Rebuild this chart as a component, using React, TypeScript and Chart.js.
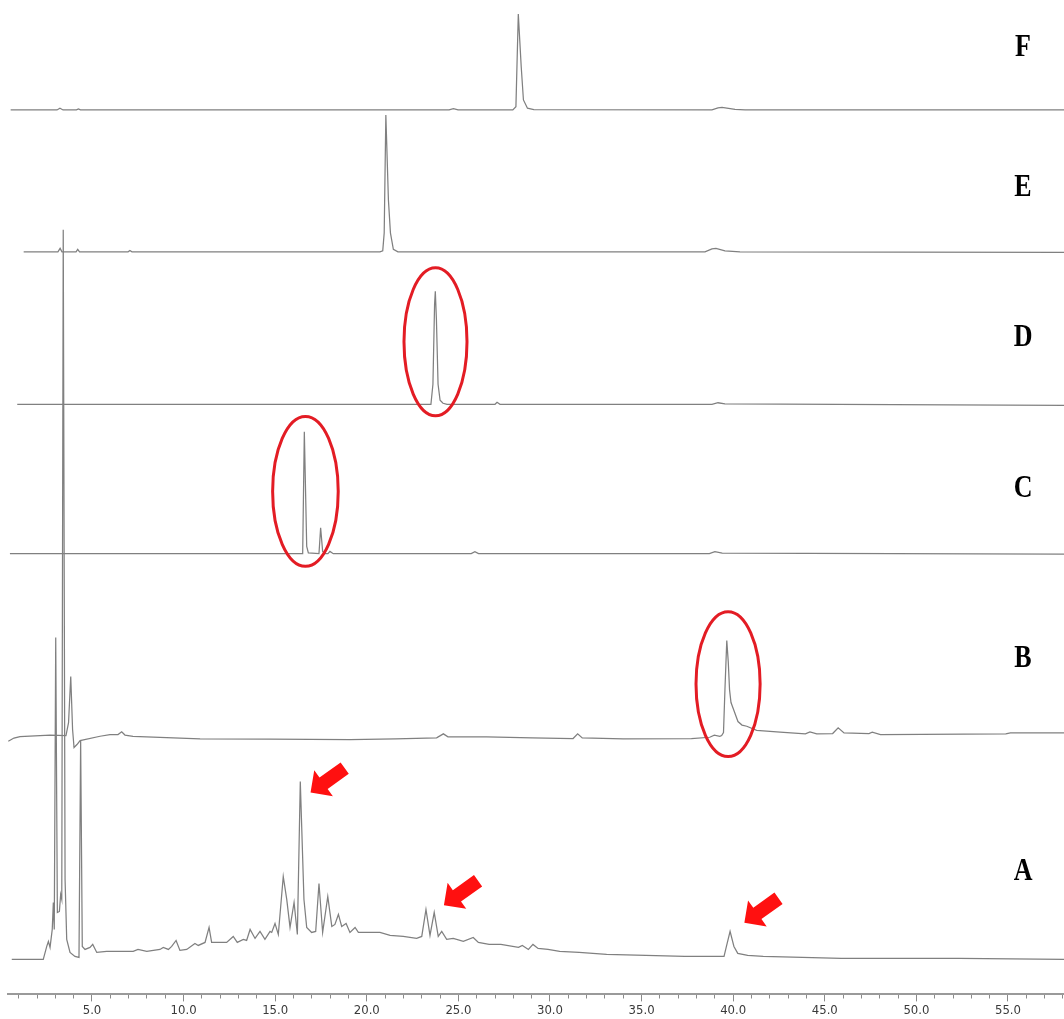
import React, { useEffect, useRef } from 'react';
import { Chart, registerables } from 'chart.js';

Chart.register(...registerables);

// Retention time (min) vs. detector signal, one trace per sample, stacked with offsets
const traceNames = ['A', 'B', 'C', 'D', 'E', 'F'];
const traceOffsets = [35, 257, 441, 590.5, 743, 885];

const traceA: [number, number][] = [
  [0.62, 0], [2.34, 0], [2.53, 13], [2.62, 18], [2.71, 12], [2.83, 30], [2.89, 57], [2.94, 30],
  [3.02, 322], [3.11, 47], [3.22, 48], [3.29, 65], [3.35, 60], [3.43, 730], [3.53, 80], [3.62, 20],
  [3.8, 7], [4.07, 3], [4.29, 2], [4.38, 219], [4.47, 13], [4.62, 10], [4.89, 12], [5.04, 15],
  [5.26, 7], [5.8, 8], [7.25, 8], [7.51, 10], [7.99, 8], [8.71, 10], [8.89, 12], [9.17, 10],
  [9.35, 13], [9.59, 19], [9.8, 9], [10.17, 10], [10.62, 16], [10.8, 14], [11.17, 17], [11.39, 32],
  [11.53, 17], [12.35, 17], [12.71, 23], [12.93, 17], [13.26, 20], [13.44, 19], [13.63, 30], [13.9, 21],
  [14.17, 28], [14.44, 20], [14.72, 28], [14.81, 27], [14.99, 36], [15.17, 25], [15.44, 83], [15.63, 60],
  [15.81, 32], [16.03, 57], [16.21, 25], [16.37, 178], [16.57, 60], [16.72, 32], [16.99, 27], [17.21, 28],
  [17.39, 76], [17.59, 27], [17.87, 63], [18.09, 33], [18.26, 35], [18.45, 45], [18.63, 33], [18.87, 36],
  [19.08, 27], [19.36, 32], [19.54, 27], [20.0, 27], [20.72, 27], [21.27, 24], [21.99, 23], [22.72, 21],
  [23.0, 23], [23.23, 50], [23.45, 24], [23.68, 47], [23.9, 23], [24.09, 28], [24.36, 20], [24.72, 21],
  [25.27, 18], [25.81, 22], [26.09, 17], [26.68, 15], [27.32, 15], [28.28, 12], [28.49, 14], [28.82, 10],
  [29.07, 15], [29.35, 11], [29.89, 10], [30.53, 8], [31.59, 7], [33.09, 5], [35.23, 4], [37.36, 3],
  [39.5, 3], [39.63, 13], [39.83, 28], [40.04, 13], [40.25, 6], [40.79, 4], [41.64, 3], [45.91, 1],
  [52.33, 1], [58.06, 0],
];

const traceB: [number, number][] = [
  [0.43, -3.7], [0.74, -0.5], [1.07, 1], [2.71, 2.5], [3.58, 2], [3.72, 15], [3.84, 61], [3.94, 8],
  [4.02, -10], [4.18, -7], [4.35, -3], [5.44, 1.3], [5.98, 3], [6.42, 3], [6.62, 5.7], [6.8, 2.5],
  [7.24, 1.3], [10.9, -1.3], [14.72, -1.5], [19.08, -2], [21.57, -1.3], [23.81, -0.3], [24.18, 3.7],
  [24.43, 0.7], [26.54, 0.7], [29.02, -0.3], [31.26, -1], [31.51, 3.7], [31.76, -0.3], [34.0, -1.3],
  [37.72, -1], [38.72, 0.3], [38.97, 2.3], [39.27, 1.3], [39.37, 2], [39.47, 5], [39.55, 48], [39.65, 97],
  [39.73, 76], [39.8, 48], [39.88, 35], [40.04, 27], [40.26, 16], [40.48, 12.5], [40.74, 11.3], [41.28, 7.3],
  [42.56, 5.5], [43.94, 3.7], [44.19, 5.7], [44.56, 3.7], [45.43, 4], [45.73, 9.7], [46.05, 4.7], [47.41, 4],
  [47.59, 5.3], [48.04, 3], [54.88, 3.7], [55.13, 4.7], [58.06, 4.7],
];

const traceC: [number, number][] = [
  [0.52, 0], [16.5, 0], [16.59, 122], [16.72, 7.3], [16.81, 0.7], [17.39, 0], [17.48, 26], [17.59, 2.3],
  [17.72, 0], [17.88, 0], [17.99, 2.3], [18.17, 0], [25.7, 0], [25.9, 2], [26.1, 0], [38.7, 0],
  [39.0, 2], [39.4, 0.5], [58.06, -0.5],
];

const traceD: [number, number][] = [
  [0.92, 0], [23.5, 0], [23.61, 20], [23.7, 100], [23.74, 113], [23.8, 85], [23.89, 20], [24.0, 4],
  [24.16, 1], [24.38, 0], [27.0, 0], [27.11, 2], [27.27, 0], [38.84, 0], [39.17, 1.5], [39.55, 0.5],
  [58.06, -1],
];

const traceE: [number, number][] = [
  [1.27, 0], [3.14, 0], [3.26, 3.5], [3.36, 0], [4.13, 0], [4.22, 2.5], [4.32, 0], [6.97, 0],
  [7.07, 1.3], [7.18, 0], [20.72, 0], [20.87, 1], [20.95, 19], [21.04, 137], [21.18, 52], [21.29, 19],
  [21.45, 2.5], [21.7, 0], [38.46, 0], [38.84, 3], [39.06, 3.5], [39.55, 1], [40.37, 0], [58.06, -0.5],
];

const traceF: [number, number][] = [
  [0.56, 0], [3.09, 0], [3.25, 1.7], [3.42, 0], [4.15, 0], [4.26, 1], [4.37, 0], [24.49, 0],
  [24.73, 1.3], [24.98, 0], [27.97, 0], [28.14, 3.3], [28.27, 96], [28.43, 43], [28.55, 10], [28.77, 1.7],
  [29.12, 0.3], [38.84, 0], [39.17, 2], [39.39, 2.5], [40.1, 0.5], [40.65, 0], [58.06, 0],
];

const traces = [traceA, traceB, traceC, traceD, traceE, traceF];

// Axis range (min)
const timeMin = 0.415;
const timeMax = 58.057;
const majorStep = 5;

// Annotations (in data units)
const letterTime = 55.82;
const letterLevel = [114.5, 327.5, 497.5, 648.5, 798.5, 938.5];

const circledTime = [16.65, 23.75, 39.72];
const circledLevel = [503.3, 653, 310.5];
const circledHalfSpan = [1.79, 1.72, 1.75];
const circledHalfRange = [75, 74, 72.5];

const arrowTime = [16.93, 24.21, 40.61];
const arrowLevel = [202, 89.3, 71.7];

const annotationPlugin = {
  id: 'chromAnnotations',
  afterDatasetsDraw(chart: any) {
    const { ctx } = chart;
    const x = chart.scales.x;
    const y = chart.scales.y;
    ctx.save();

    // red ellipses
    ctx.strokeStyle = '#e31c24';
    ctx.lineWidth = 3;
    circledTime.forEach((t, i) => {
      const cx = x.getPixelForValue(t);
      const cy = y.getPixelForValue(circledLevel[i]);
      const rx = Math.abs(x.getPixelForValue(t + circledHalfSpan[i]) - cx);
      const ry = Math.abs(y.getPixelForValue(circledLevel[i] + circledHalfRange[i]) - cy);
      ctx.beginPath();
      ctx.ellipse(cx, cy, rx, ry, 0, 0, Math.PI * 2);
      ctx.stroke();
    });

    // red arrows
    const dLen = Math.hypot(-0.81, 0.58);
    const dx = -0.81 / dLen;
    const dy = 0.58 / dLen;
    const nx = -dy;
    const ny = dx;
    const L = 42;
    const headLen = 16;
    const headHalf = 16;
    const shaftHalf = 7;
    ctx.fillStyle = '#ff1010';
    arrowTime.forEach((t, i) => {
      const tx = x.getPixelForValue(t);
      const ty = y.getPixelForValue(arrowLevel[i]);
      const bx = tx - dx * headLen;
      const by = ty - dy * headLen;
      const ex = tx - dx * L;
      const ey = ty - dy * L;
      ctx.beginPath();
      ctx.moveTo(tx, ty);
      ctx.lineTo(bx + nx * headHalf, by + ny * headHalf);
      ctx.lineTo(bx + nx * shaftHalf, by + ny * shaftHalf);
      ctx.lineTo(ex + nx * shaftHalf, ey + ny * shaftHalf);
      ctx.lineTo(ex - nx * shaftHalf, ey - ny * shaftHalf);
      ctx.lineTo(bx - nx * shaftHalf, by - ny * shaftHalf);
      ctx.lineTo(bx - nx * headHalf, by - ny * headHalf);
      ctx.closePath();
      ctx.fill();
    });

    // trace letters
    ctx.fillStyle = '#000';
    ctx.font = 'bold 26px "Liberation Serif", "DejaVu Serif", serif';
    ctx.textAlign = 'center';
    ctx.textBaseline = 'alphabetic';
    traceNames.forEach((name, i) => {
      const px = x.getPixelForValue(letterTime);
      const py = y.getPixelForValue(letterLevel[i]);
      ctx.save();
      ctx.translate(px, py);
      ctx.scale(1, 1.22);
      ctx.fillText(name, 0, 0);
      ctx.restore();
    });

    ctx.restore();
  },
};

export default function App() {
  const canvasRef = useRef<HTMLCanvasElement>(null);

  useEffect(() => {
    const canvas = canvasRef.current;
    if (!canvas) return;
    const datasets = traces.map((tr, i) => ({
      label: traceNames[i],
      data: tr.map(([t, s]) => ({ x: t, y: s + traceOffsets[i] })),
      borderColor: '#808080',
      borderWidth: 1.25,
      pointRadius: 0,
      fill: false,
      tension: 0,
    }));

    const chart = new Chart(canvas, {
      type: 'line',
      data: { datasets },
      options: {
        animation: false,
        responsive: false,
        devicePixelRatio: 1,
        events: [],
        layout: { padding: { left: 8, right: 0, top: 0, bottom: 0 } },
        plugins: {
          legend: { display: false },
          tooltip: { enabled: false },
        },
        scales: {
          x: {
            type: 'linear',
            min: timeMin,
            max: timeMax,
            border: { display: true, color: '#9a9a9a', width: 2 },
            grid: {
              display: true,
              drawOnChartArea: false,
              drawTicks: true,
              tickLength: 7,
              tickColor: '#8a8a8a',
              tickWidth: 1,
              tickBorderDash: (c: any) =>
                c.tick && Math.abs(c.tick.value % majorStep) < 1e-6 ? [] : [3.5, 20],
            },
            ticks: {
              stepSize: 1,
              autoSkip: false,
              includeBounds: false,
              maxRotation: 0,
              minRotation: 0,
              padding: 1,
              color: '#3a3a3a',
              font: { family: "'Liberation Sans Narrow', 'DejaVu Sans Condensed', 'Roboto', sans-serif", size: 13 },
              callback: (v: any) => (Math.abs(Number(v) % majorStep) < 1e-6 ? Number(v).toFixed(1) : ''),
            },
          },
          y: {
            type: 'linear',
            display: false,
            min: 0,
            max: 995,
          },
        },
      },
      plugins: [annotationPlugin],
    });
    return () => chart.destroy();
  }, []);

  return (
    <div style={{ position: 'absolute', left: 0, top: 0, width: 1064, height: 1019, background: '#fff' }}>
      <canvas ref={canvasRef} width={1064} height={1019} style={{ display: 'block' }} />
    </div>
  );
}
